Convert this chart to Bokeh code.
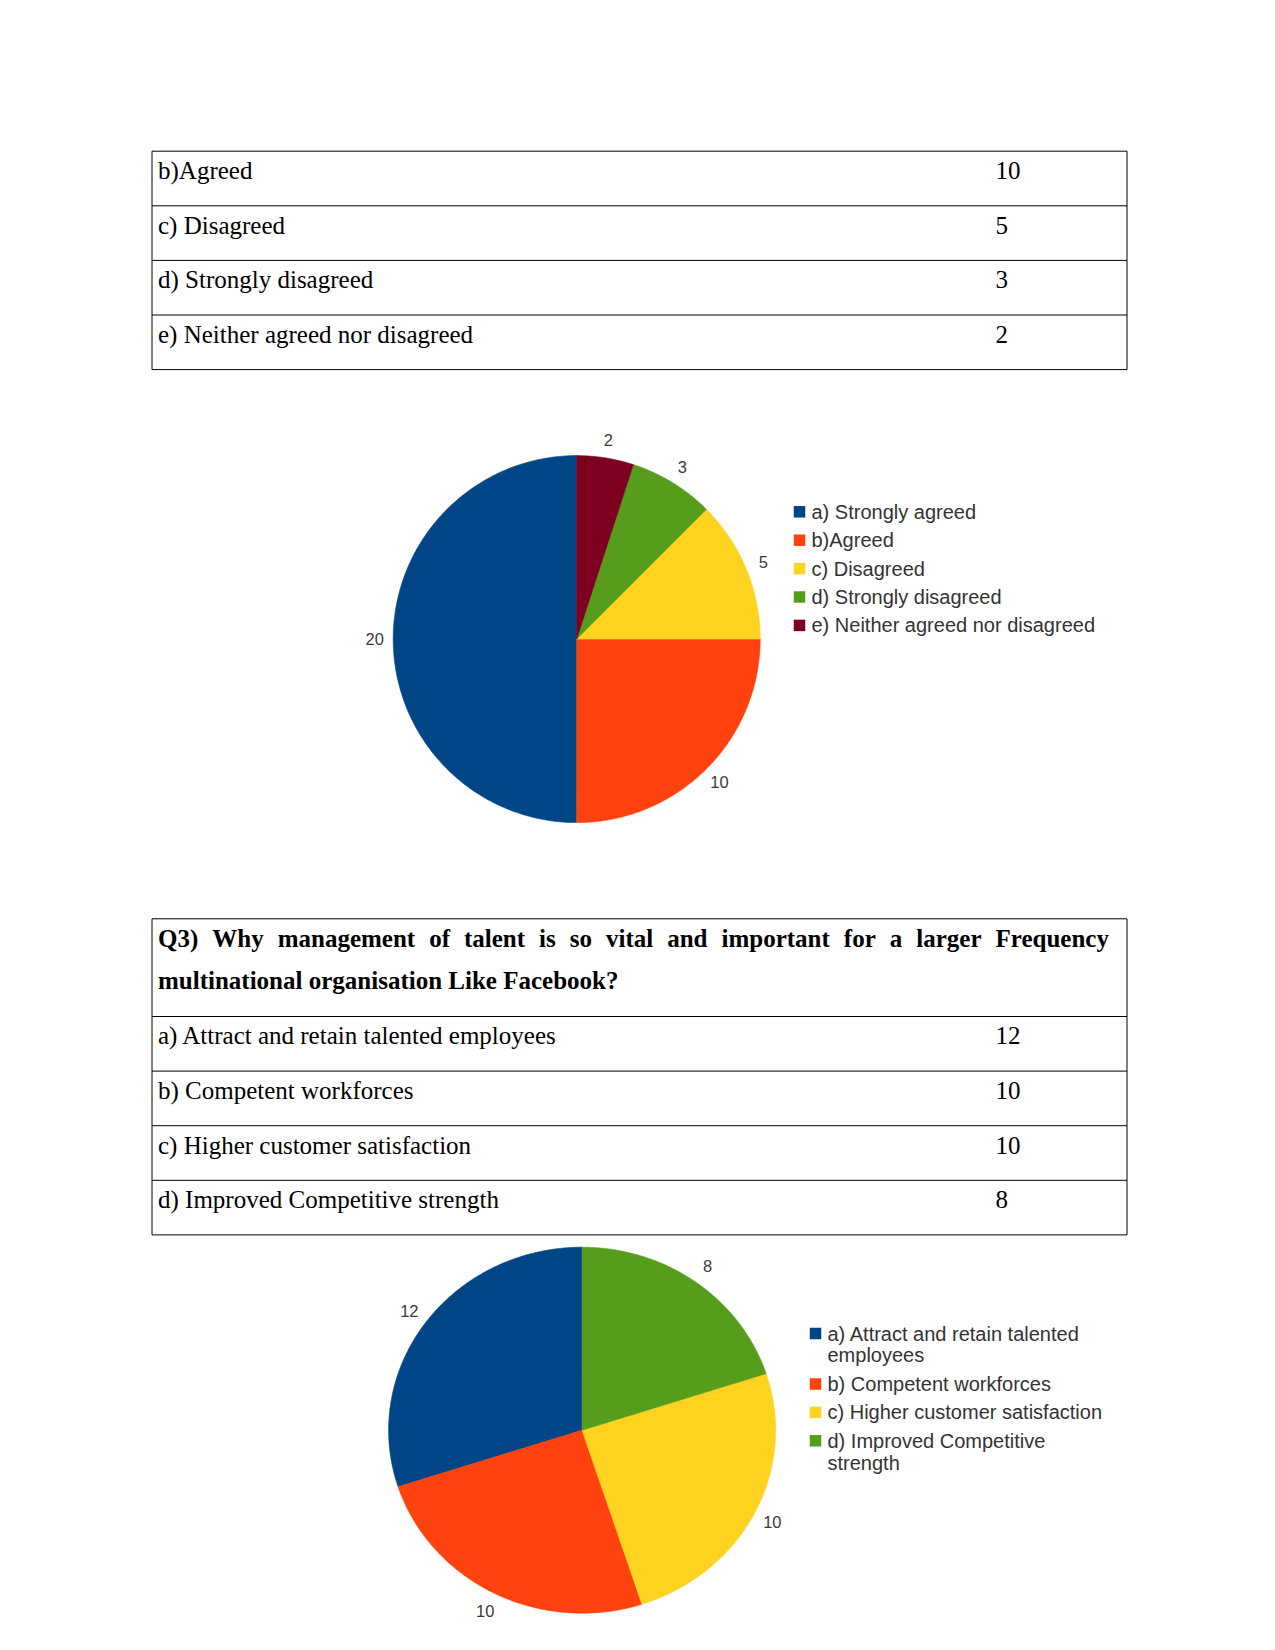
import textwrap
import numpy as np
from bokeh.plotting import figure
from bokeh.models import Range1d
from bokeh.core.properties import value
from bokeh.embed import file_html
from bokeh.resources import INLINE

# ---------------- data ----------------
q2_labels = ["a) Strongly agreed", "b)Agreed", "c) Disagreed",
             "d) Strongly disagreed", "e) Neither agreed nor disagreed"]
q2_values = [20, 10, 5, 3, 2]

q3_question = ("Q3) Why management of talent is so vital and important for a larger "
               "multinational organisation Like Facebook?")
q3_header_right = "Frequency"
q3_labels = ["a) Attract and retain talented employees", "b) Competent workforces",
             "c) Higher customer satisfaction", "d) Improved Competitive strength"]
q3_values = [12, 10, 10, 8]

palette = ["#004586", "#ff420e", "#ffd320", "#579d1c", "#7e0021"]

# ---------------- page figure ----------------
W, H = 1275, 1650
p = figure(width=W, height=H, x_range=Range1d(0, W), y_range=Range1d(H, 0),
           output_backend="svg", toolbar_location=None,
           x_axis_type=None, y_axis_type=None, min_border=0)
p.outline_line_color = None
p.background_fill_color = "white"
p.border_fill_color = "white"

SERIF = value("Liberation Serif")
SANS = value("Liberation Sans")
TXT = "25px"

TBL_L, TBL_R = 151.5, 1126.5
COL2_X = 995.0
PAD_X = 6.0
ROW_H = 54.6
BASE_OFF = 19.3

def table_lines(ys):
    p.segment(x0=[TBL_L] * len(ys), x1=[TBL_R] * len(ys), y0=ys, y1=ys,
              line_color="black", line_width=1)
    p.segment(x0=[TBL_L, TBL_R], x1=[TBL_L, TBL_R], y0=[ys[0]] * 2, y1=[ys[-1]] * 2,
              line_color="black", line_width=1)

def table_rows(top, labels, vals):
    ys = [top + i * ROW_H + BASE_OFF for i in range(len(labels))]
    p.text(x=[TBL_L + PAD_X] * len(labels), y=ys, text=labels, text_font=SERIF,
           text_font_size=TXT, text_color="black", text_baseline="alphabetic")
    p.text(x=[COL2_X] * len(vals), y=ys, text=[str(v) for v in vals], text_font=SERIF,
           text_font_size=TXT, text_color="black", text_baseline="alphabetic")

# ---- table 1 (continuation: rows b-e) ----
t1_top = 150.7
t1_lab, t1_val = q2_labels[1:], q2_values[1:]
table_lines([t1_top + i * ROW_H for i in range(len(t1_lab) + 1)])
table_rows(t1_top, t1_lab, t1_val)

# ---- pie helper ----
def pie(values, labels, cx, cy, rx, ry, lab_d, leg_x, leg_y0):
    vals = np.array(values, dtype=float)
    frac = vals / vals.sum()
    ends = np.pi / 2 + 2 * np.pi * np.cumsum(frac)
    starts = ends - 2 * np.pi * frac
    xs, ys, cols = [], [], []
    for i, (a0, a1) in enumerate(zip(starts, ends)):
        th = np.linspace(a0, a1, 200)
        xs.append(np.concatenate([[cx], cx + rx * np.cos(th)]))
        ys.append(np.concatenate([[cy], cy - ry * np.sin(th)]))
        cols.append(palette[i])
    p.patches(xs=xs, ys=ys, fill_color=cols, line_color=cols, line_width=0.6)
    mid = (starts + ends) / 2
    p.text(x=cx + (rx + lab_d) * np.cos(mid), y=cy - (ry + lab_d) * np.sin(mid),
           text=[str(v) for v in values], text_font=SANS, text_font_size="16.5px",
           text_color="#3a3a3a", text_align="center", text_baseline="middle")
    # legend
    wrapped = [textwrap.wrap(l, width=31) for l in labels]
    sq_y, tx_y, y = [], [], leg_y0
    for w in wrapped:
        sq_y.append(y)
        tx_y.append(y + (len(w) - 1) * 22.1 / 2)
        y += 28.4 + (len(w) - 1) * 22.1
    p.rect(x=[leg_x] * len(labels), y=sq_y, width=11.5, height=11.5,
           fill_color=palette[:len(labels)], line_color=None)
    p.text(x=[leg_x + 12] * len(labels), y=tx_y, text=["\n".join(w) for w in wrapped],
           text_font=SANS, text_font_size="20px", text_color="#333333",
           text_baseline="middle", text_line_height=0.97)

pie(q2_values, q2_labels, 576.2, 638.6, 183.5, 183.5, 18.5, 799.0, 511.3)

# ---- table 2 ----
t2_top = 918.3
t2_head_h = 97.7
t2_rows_top = t2_top + t2_head_h
table_lines([t2_top] + [t2_rows_top + i * ROW_H for i in range(len(q3_labels) + 1)])

# bold header: first line justified inside column 1, then left-aligned rest
TB = {"Q": 778, "3": 500, ")": 333, "W": 1000, "h": 556, "y": 500, "m": 833, "a": 500,
      "n": 556, "g": 500, "e": 444, "t": 333, "o": 500, "f": 333, "l": 278, "i": 278,
      "s": 389, "v": 500, "d": 556, "p": 556, "r": 444}
words = q3_question.split()
line1 = words[:13]
line2 = " ".join(words[13:])
fs = 25.0
wid = [sum(TB.get(c, 500) for c in w) * fs / 1000 for w in line1]
x_start, x_end = TBL_L + PAD_X, 981.0
gap = (x_end - x_start - sum(wid)) / (len(line1) - 1)
wx, x = [], x_start
for w in wid:
    wx.append(x)
    x += w + gap
H1 = t2_top + 19.4
p.text(x=wx, y=[H1] * len(line1), text=line1, text_font=SERIF,
       text_font_size=TXT, text_font_style="bold", text_color="black",
       text_baseline="alphabetic")
p.text(x=[x_start], y=[H1 + 42.5], text=[line2], text_font=SERIF,
       text_font_size=TXT, text_font_style="bold", text_color="black",
       text_baseline="alphabetic")
p.text(x=[COL2_X], y=[H1], text=[q3_header_right], text_font=SERIF,
       text_font_size=TXT, text_font_style="bold", text_color="black",
       text_baseline="alphabetic")
table_rows(t2_rows_top, q3_labels, q3_values)

pie(q3_values, q3_labels, 581.6, 1429.7, 193.5, 183.0, 20.0, 815.0, 1333.0)

open("out.html", "w").write(file_html(p, INLINE))
